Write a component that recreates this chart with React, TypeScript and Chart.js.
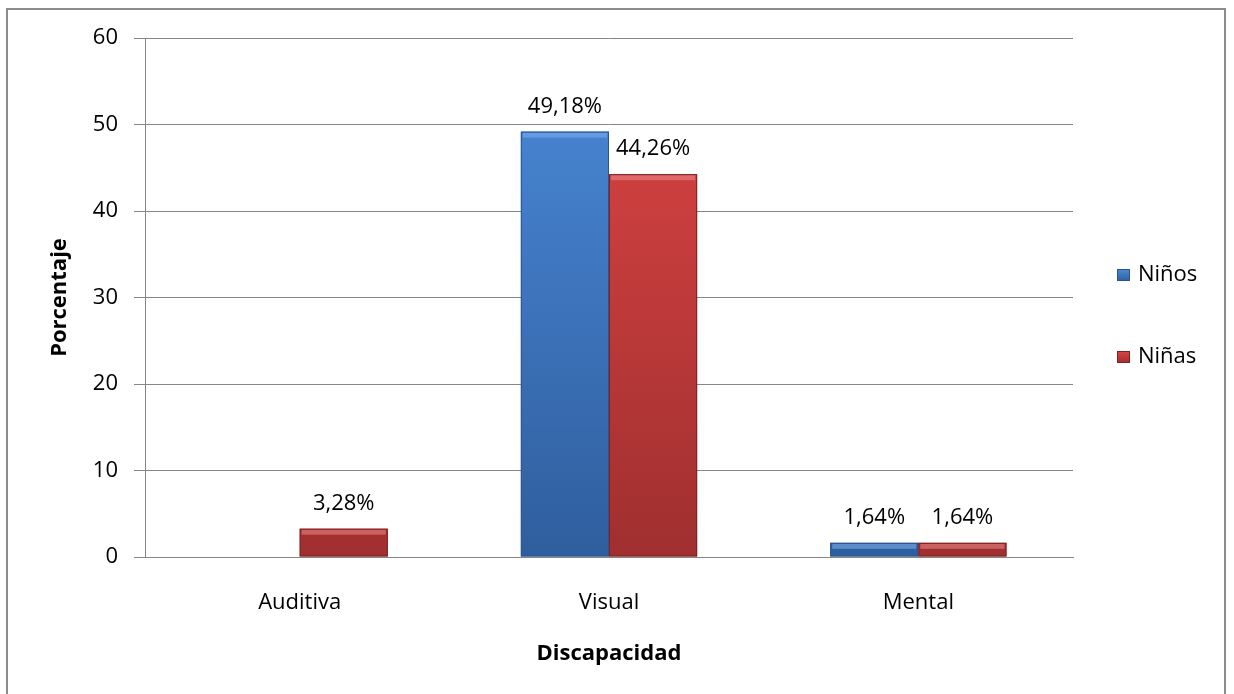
import React, { useEffect, useRef } from "react";
import { Chart, registerables } from "chart.js";

Chart.register(...registerables);

const categories = ["Auditiva", "Visual", "Mental"];
const ninos = [0, 49.18, 1.64];
const ninas = [3.28, 44.26, 1.64];
const seriesNames = ["Niños", "Niñas"];
const yTicks = [0, 10, 20, 30, 40, 50, 60];
const yTitle = "Porcentaje";
const xTitle = "Discapacidad";

const FONT = "'Open Sans', 'DejaVu Sans', sans-serif";
const BLUE = { top: "#4b8ad9", bottom: "#2f5e9e", edge: "#2a5590", light: "#7fb0ee" };
const RED = { top: "#dd4545", bottom: "#a02f2f", edge: "#7e2222", light: "#f08a8a" };

function makeGrad(ctx: CanvasRenderingContext2D, area: any, c: any) {
  const g = ctx.createLinearGradient(0, area.top, 0, area.bottom);
  g.addColorStop(0, c.top);
  g.addColorStop(1, c.bottom);
  return g;
}

const fmt = (v: number) => v.toFixed(2).replace(".", ",") + "%";

export default function App() {
  const ref = useRef<HTMLCanvasElement>(null);
  useEffect(() => {
    if (!ref.current) return;
    const palettes = [BLUE, RED];

    const decor = {
      id: "decor",
      beforeDraw(chart: any) {
        const ctx = chart.ctx;
        ctx.save();
        ctx.fillStyle = "#fff";
        ctx.fillRect(0, 0, chart.width, chart.height);
        ctx.strokeStyle = "#8c8c8c";
        ctx.lineWidth = 2;
        ctx.beginPath();
        ctx.moveTo(7, 694);
        ctx.lineTo(7, 9);
        ctx.lineTo(1225, 9);
        ctx.lineTo(1225, 694);
        ctx.stroke();
        ctx.restore();
      },
      afterDatasetsDraw(chart: any) {
        const ctx = chart.ctx;
        ctx.save();
        chart.data.datasets.forEach((ds: any, di: number) => {
          const meta = chart.getDatasetMeta(di);
          const pal = palettes[di];
          meta.data.forEach((bar: any, i: number) => {
            const v = ds.data[i];
            if (!v) return;
            const { x, y, base, width } = bar;
            const l = x - width / 2;
            const h = base - y;
            const bh = Math.min(5, h / 2);
            ctx.fillStyle = pal.light;
            ctx.globalAlpha = 0.55;
            ctx.fillRect(l + 2, y + 1, width - 4, bh);
            ctx.globalAlpha = 1;
            ctx.strokeStyle = pal.edge;
            ctx.lineWidth = 1;
            ctx.strokeRect(l + 0.5, y + 0.5, width - 1, h - 1);
            ctx.fillStyle = "#000";
            ctx.font = `22px ${FONT}`;
            ctx.textAlign = "center";
            ctx.textBaseline = "middle";
            ctx.fillText(fmt(v), x, y - 25);
          });
        });
        const ys = [275, 357];
        seriesNames.forEach((name, i) => {
          const pal = palettes[i];
          const yy = ys[i];
          const g = ctx.createLinearGradient(0, yy - 6, 0, yy + 6);
          g.addColorStop(0, pal.top);
          g.addColorStop(1, pal.bottom);
          ctx.fillStyle = g;
          ctx.fillRect(1117, yy - 6, 13, 12);
          ctx.strokeStyle = pal.edge;
          ctx.lineWidth = 1;
          ctx.strokeRect(1117.5, yy - 5.5, 12, 11);
          ctx.fillStyle = "#000";
          ctx.font = `22px ${FONT}`;
          ctx.textAlign = "left";
          ctx.textBaseline = "middle";
          ctx.fillText(name, 1138, yy);
        });
        ctx.restore();
      },
    };

    const chart = new Chart(ref.current, {
      type: "bar",
      data: {
        labels: categories,
        datasets: [ninos, ninas].map((d, di) => ({
          label: seriesNames[di],
          data: d,
          backgroundColor: (c: any) => {
            const area = c.chart.chartArea;
            if (!area) return palettes[di].top;
            return makeGrad(c.chart.ctx, area, palettes[di]);
          },
          borderWidth: 0,
          categoryPercentage: 0.57,
          barPercentage: 1,
        })),
      },
      options: {
        responsive: false,
        animation: false,
        layout: { padding: { left: 0, top: 38, right: 161, bottom: 0 } },
        plugins: { legend: { display: false }, tooltip: { enabled: false } },
        scales: {
          x: {
            grid: { display: false },
            border: { display: true, color: "#868686", width: 1 },
            ticks: { color: "#000", font: { family: FONT, size: 22 }, padding: 25 },
            title: {
              display: true,
              text: xTitle,
              color: "#000",
              font: { family: FONT, size: 22, weight: "bold" },
              padding: { top: 27, bottom: 27 },
            },
            afterFit: (s: any) => {
              s.height = 137;
            },
          },
          y: {
            min: 0,
            max: 60,
            afterBuildTicks: (s: any) => {
              s.ticks = yTicks.map((v) => ({ value: v }));
            },
            grid: { color: "#868686", lineWidth: 1, tickLength: 11, drawTicks: true },
            border: { display: true, color: "#868686", width: 1 },
            ticks: { color: "#000", font: { family: FONT, size: 22 }, padding: 16 },
            title: {
              display: true,
              text: yTitle,
              color: "#000",
              font: { family: FONT, size: 22, weight: "bold" },
              padding: { top: 47, bottom: 0 },
            },
            afterFit: (s: any) => {
              s.width = 145;
            },
          },
        },
      },
      plugins: [decor],
    } as any);
    return () => chart.destroy();
  }, []);
  return (
    <div style={{ position: "absolute", left: 0, top: 0, width: 1234, height: 694 }}>
      <canvas ref={ref} width={1234} height={694} style={{ display: "block" }} />
    </div>
  );
}
